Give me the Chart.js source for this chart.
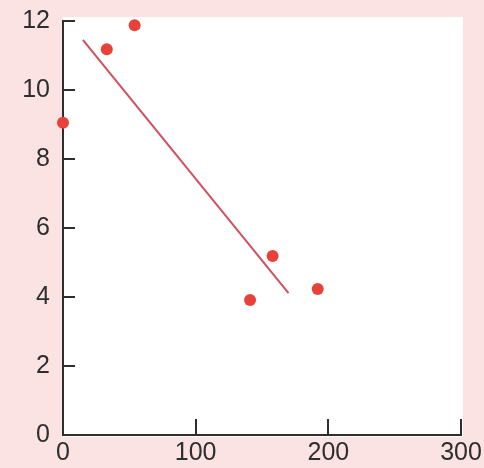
<!DOCTYPE html>
<html>
<head>
<meta charset="utf-8">
<script src="https://cdn.jsdelivr.net/npm/chart.js@4/dist/chart.umd.min.js"></script>
<style>
html,body{margin:0;padding:0;background:#fae2e1;}
#wrap{width:484px;height:468px;position:relative;}
</style>
</head>
<body>
<div id="wrap"><canvas id="c" width="484" height="468"></canvas></div>
<script>
// Data
const pointX = [0, 33, 54, 141, 158, 192];
const pointY = [9.05, 11.18, 11.88, 3.91, 5.19, 4.23];
const lineX = [15, 170];
const lineY = [11.45, 4.11];
const xTicks = [0, 100, 200, 300];
const yTicks = [0, 2, 4, 6, 8, 10, 12];

const AXIS = '#2e2e2e';
const FONT = '"Liberation Sans", Arial, sans-serif';

const bgPlugin = {
  id: 'bg',
  beforeDraw(chart) {
    const {ctx, chartArea: a} = chart;
    ctx.save();
    ctx.fillStyle = '#fae3e2';
    ctx.fillRect(0, 0, chart.width, chart.height);
    ctx.fillStyle = '#ffffff';
    ctx.fillRect(a.left, a.top - 4, a.right - a.left + 2, a.bottom - a.top + 6);
    ctx.restore();
  },
  afterDatasetsDraw(chart) {
    const {ctx, chartArea: a, scales} = chart;
    ctx.save();
    ctx.strokeStyle = AXIS;
    ctx.lineWidth = 2;
    scales.y.ticks.forEach(t => {
      if (t.value === 0) return;
      const py = Math.round(scales.y.getPixelForValue(t.value));
      ctx.beginPath();
      ctx.moveTo(a.left, py);
      ctx.lineTo(a.left + 12, py);
      ctx.stroke();
    });
    scales.x.ticks.forEach(t => {
      if (t.value === 0) return;
      const px = Math.round(scales.x.getPixelForValue(t.value));
      ctx.beginPath();
      ctx.moveTo(px, a.bottom);
      ctx.lineTo(px, a.bottom - 16);
      ctx.stroke();
    });
    ctx.restore();
  }
};

new Chart(document.getElementById('c'), {
  type: 'scatter',
  data: {
    datasets: [
      {
        data: lineX.map((x, i) => ({x, y: lineY[i]})),
        showLine: true,
        borderColor: '#cf5060',
        borderWidth: 2,
        pointRadius: 0,
        fill: false,
        order: 2
      },
      {
        data: pointX.map((x, i) => ({x, y: pointY[i]})),
        backgroundColor: '#e8413a',
        borderColor: '#e8413a',
        pointRadius: 6,
        pointBorderWidth: 0,
        clip: false,
        order: 1
      }
    ]
  },
  options: {
    responsive: false,
    animation: false,
    events: [],
    layout: {padding: {top: 21, right: 23, left: 0, bottom: 0}},
    plugins: {legend: {display: false}, tooltip: {enabled: false}},
    scales: {
      x: {
        type: 'linear',
        min: 0, max: 300,
        afterBuildTicks(s) { s.ticks = xTicks.map(v => ({value: v})); },
        afterFit(s) { s.height = 33; s.paddingLeft = 0; s.paddingRight = 0; },
        border: {display: true, color: AXIS, width: 2},
        grid: {display: false, drawTicks: false},
        ticks: {
          color: AXIS, padding: 3, maxRotation: 0, autoSkip: false,
          font: {family: FONT, size: 25}
        }
      },
      y: {
        type: 'linear',
        min: 0, max: 12,
        afterBuildTicks(s) { s.ticks = yTicks.map(v => ({value: v})); },
        afterFit(s) { s.width = 63; s.paddingTop = 0; s.paddingBottom = 0; },
        border: {display: true, color: AXIS, width: 2},
        grid: {display: false, drawTicks: false},
        ticks: {
          color: AXIS, padding: 13, autoSkip: false,
          font: {family: FONT, size: 25}
        }
      }
    }
  },
  plugins: [bgPlugin]
});
</script>
</body>
</html>
